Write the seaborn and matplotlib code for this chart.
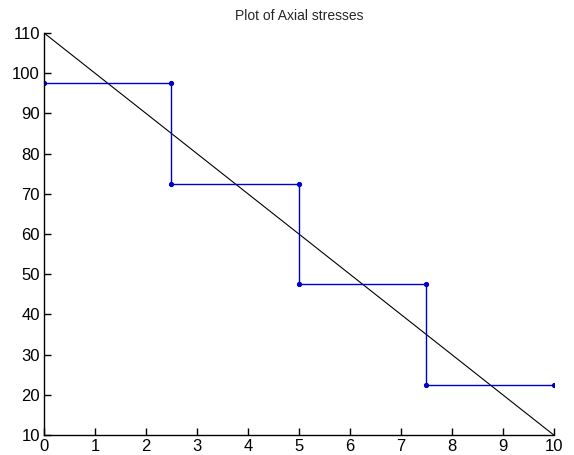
import numpy as np
import matplotlib
matplotlib.use('Agg')
import matplotlib.pyplot as plt
import seaborn as sns

# axial stress values
x_exact = [0, 10]
y_exact = [110, 10]
x_step = [0, 2.5, 2.5, 5, 5, 7.5, 7.5, 10]
y_step = [97.5, 97.5, 72.5, 72.5, 47.5, 47.5, 22.5, 22.5]

sns.set_style('ticks')
plt.rcParams['font.family'] = ['Liberation Sans', 'DejaVu Sans']

fig = plt.figure(figsize=(5.74, 4.55), dpi=100)
ax = fig.add_axes([0.0767, 0.044, 0.888, 0.8835])

sns.lineplot(x=x_exact, y=y_exact, color='black', linewidth=0.8, ax=ax,
             sort=False, estimator=None)
sns.lineplot(x=x_step, y=y_step, color='#0000cc', linewidth=1.0, marker='o', markersize=3,
             markeredgecolor='#0000cc', ax=ax, sort=False, estimator=None)

ax.set_xlim(0, 10)
ax.set_ylim(10, 110)
ax.set_xticks(range(0, 11))
ax.set_yticks(range(10, 111, 10))
ax.tick_params(direction='in', length=5, width=1, labelsize=12, pad=3, colors='black')
for side in ['left', 'bottom']:
    ax.spines[side].set_color('black')
    ax.spines[side].set_linewidth(1.0)
sns.despine(ax=ax)
ax.set_title('Plot of Axial stresses', fontsize=10, pad=9)

fig.savefig('out.png', dpi=100)
